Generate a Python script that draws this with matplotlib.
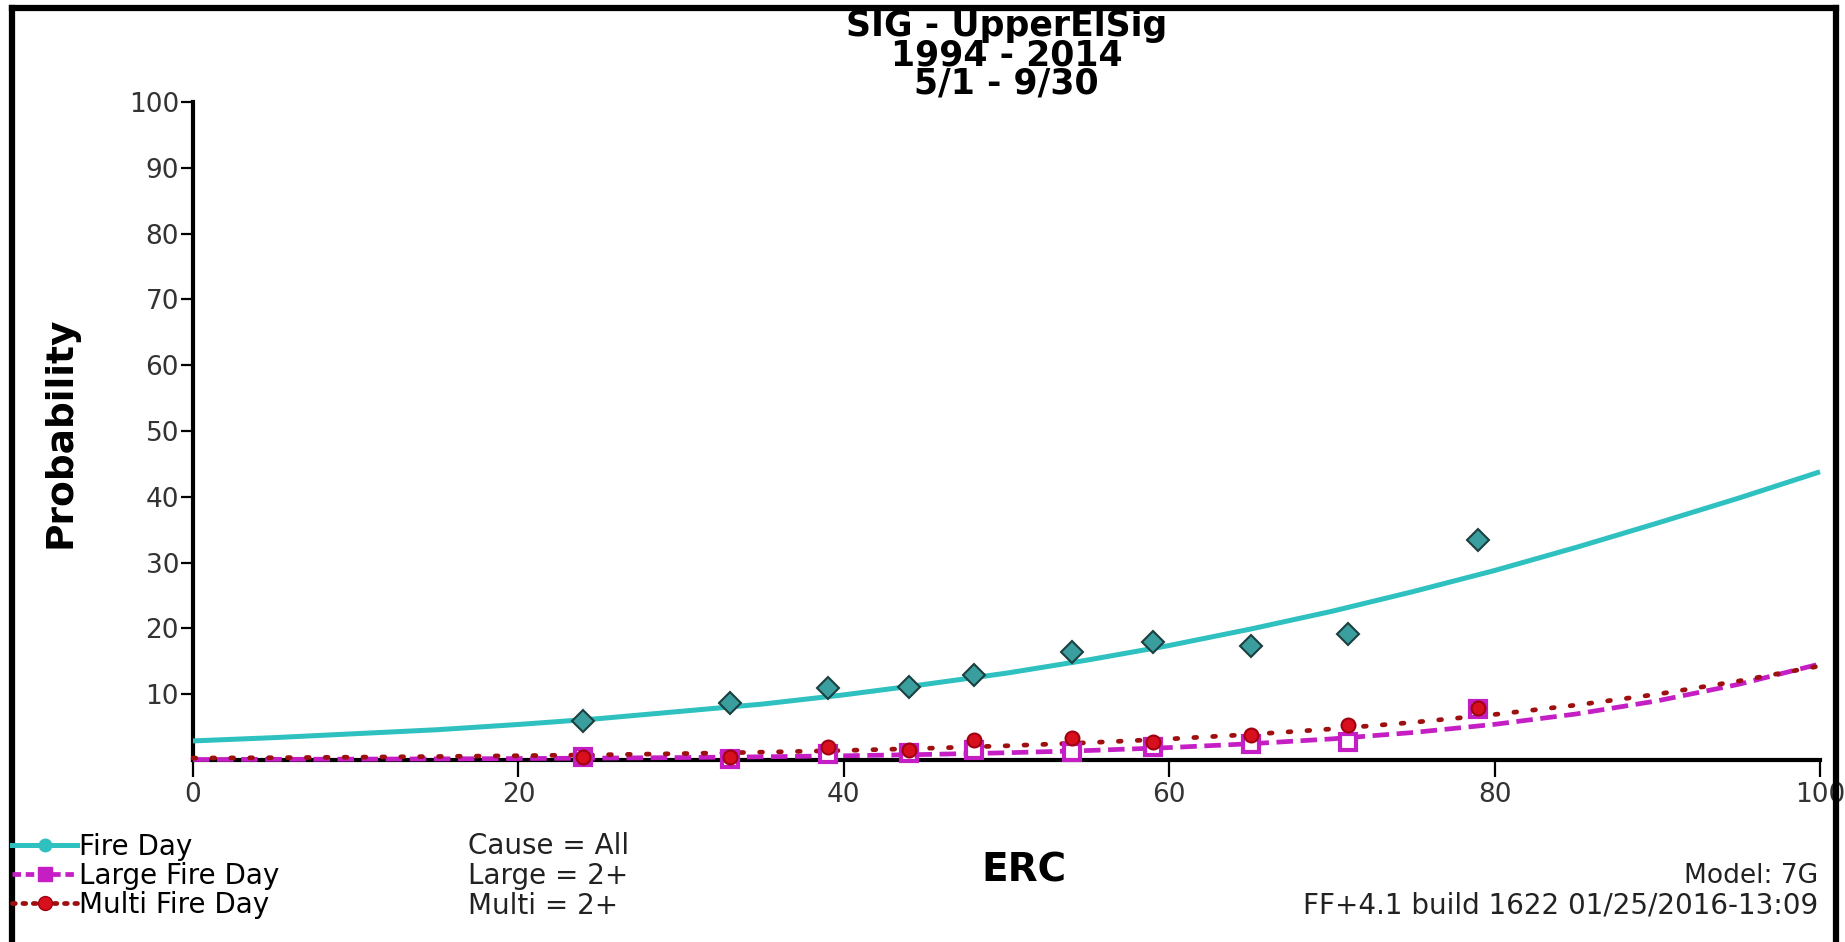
import matplotlib
matplotlib.use("Agg")
import matplotlib.pyplot as plt
from matplotlib.lines import Line2D

# Observed probabilities by ERC bin
erc_obs = [24, 33, 39, 44, 48, 54, 59, 65, 71, 79]
fire_obs = [5.9, 8.6, 11.0, 11.1, 12.9, 16.4, 17.9, 17.4, 19.1, 33.4]
large_obs = [0.5, 0.1, 0.9, 1.1, 1.5, 1.2, 2.0, 2.4, 2.7, 7.8]
multi_obs = [0.5, 0.4, 2.0, 1.5, 3.0, 3.3, 2.8, 3.8, 5.3, 7.9]

# Fitted logistic curves, sampled every 5 ERC
erc_fit = [0, 5, 10, 15, 20, 25, 30, 35, 40, 45, 50,
           55, 60, 65, 70, 75, 80, 85, 90, 95, 100]
fire_fit = [2.9, 3.4, 4.0, 4.6, 5.4, 6.3, 7.4, 8.5, 9.9, 11.5, 13.2,
            15.2, 17.4, 19.9, 22.6, 25.6, 28.8, 32.3, 36.0, 39.8, 43.8]
large_fit = [0.07, 0.10, 0.13, 0.17, 0.22, 0.29, 0.37, 0.49, 0.64, 0.84, 1.10,
             1.44, 1.89, 2.47, 3.21, 4.18, 5.42, 6.99, 8.99, 11.5, 14.6]
multi_fit = [0.29, 0.35, 0.43, 0.53, 0.65, 0.79, 0.97, 1.19, 1.45, 1.77, 2.16,
             2.63, 3.20, 3.89, 4.72, 5.72, 6.92, 8.34, 10.0, 12.0, 14.3]

x_ticks = [0, 20, 40, 60, 80, 100]
y_ticks = [10, 20, 30, 40, 50, 60, 70, 80, 90, 100]

title_lines = ["SIG - UpperElSig", "1994 - 2014", "5/1 - 9/30"]
legend_labels = ["Fire Day", "Large Fire Day", "Multi Fire Day"]
legend_notes = ["Cause = All", "Large = 2+", "Multi = 2+"]

FIRE = "#2FC0C0"
LARGE = "#C41EC4"
MULTI = "#9E1010"

W, H = 1845, 942
fig = plt.figure(figsize=(W / 100, H / 100), dpi=100)
plt.rcParams["font.family"] = ["DejaVu Sans"]

ax_l, ax_r, ax_b, ax_t = 193, 1820, 760, 102
ax = fig.add_axes([ax_l / W, 1 - ax_b / H, (ax_r - ax_l) / W, (ax_b - ax_t) / H])
ax.set_xlim(0, 100)
ax.set_ylim(0, 100)

ax.plot(erc_fit, fire_fit, color=FIRE, lw=3.6, solid_capstyle="butt",
        solid_joinstyle="round", clip_on=False, zorder=3)
ax.plot(erc_fit, large_fit, color=LARGE, lw=3.4, dashes=(3.5, 1.6),
        clip_on=False, zorder=3)
ax.plot(erc_fit, multi_fit, color=MULTI, lw=3.4, dashes=(0.6, 3.4),
        dash_capstyle="round", clip_on=False, zorder=4)

ax.plot(erc_obs, fire_obs, ls="none", marker="D", ms=11, mfc="#3B9E9E",
        mec="#1C3F3F", mew=1.5, clip_on=False, zorder=5)
ax.plot(erc_obs, large_obs, ls="none", marker="s", ms=11, mfc="white",
        mec=LARGE, mew=3, clip_on=False, zorder=5)
ax.plot(erc_obs, multi_obs, ls="none", marker="o", ms=10, mfc="#D8101E",
        mec="#A00010", mew=1.5, clip_on=False, zorder=6)

for side in ("top", "right"):
    ax.spines[side].set_visible(False)
for side in ("left", "bottom"):
    ax.spines[side].set_linewidth(3)
    ax.spines[side].set_color("black")

ax.set_xticks(x_ticks)
ax.set_yticks(y_ticks)
ax.tick_params(axis="y", direction="out", length=9, width=1.6, pad=1,
               labelsize=19, labelcolor="#333333")
ax.tick_params(axis="x", direction="out", length=12, width=1.6, pad=4,
               labelsize=19, labelcolor="#333333")

# Title block and axis labels
fig.text((ax_l + ax_r) / 2 / W, 1 - 55 / H, "\n".join(title_lines),
         ha="center", va="center", multialignment="center",
         fontsize=25, fontweight="bold", color="black", linespacing=0.81)

fig.text(60 / W, 1 - 432 / H, "Probability", rotation=90, ha="center", va="center",
         fontsize=27, fontweight="bold")
fig.text(1024 / W, 1 - 871 / H, "ERC", ha="center", va="center",
         fontsize=28, fontweight="bold")

# Legend in the lower-left corner
leg_handles = [
    Line2D([], [], color=FIRE, lw=3.6, marker="o", ms=9, mfc=FIRE, mec=FIRE),
    Line2D([], [], color=LARGE, lw=3.4, dashes=(1.8, 1.0), marker="s", ms=10,
           mfc=LARGE, mec=LARGE),
    Line2D([], [], color=MULTI, lw=3.4, dashes=(0.6, 1.6), dash_capstyle="round",
           marker="o", ms=10, mfc="#D8101E", mec="#A00010"),
]
fig.legend(leg_handles, legend_labels, loc="upper left",
           bbox_to_anchor=(12 / W, 1 - 833 / H), frameon=False, fontsize=20,
           handlelength=2.34, handletextpad=0.08, labelspacing=0.03,
           borderpad=0, borderaxespad=0, numpoints=1)

row_y = [846, 876, 906]
for note, yy in zip(legend_notes, row_y):
    fig.text(468 / W, 1 - yy / H, note, ha="left", va="center", fontsize=20,
             color="#222222")

fig.text(1818 / W, 1 - 876 / H, "Model: 7G", ha="right", va="center",
         fontsize=19, color="#222222")
fig.text(1818 / W, 1 - 906 / H, "FF+4.1 build 1622 01/25/2016-13:09", ha="right",
         va="center", fontsize=20, color="#222222")

# Frame around the figure
for xs, ys in [((12, 12), (0, H - 8)), ((12, 1836), (H - 8, H - 8)),
               ((1836, 1836), (0, H - 8))]:
    fig.add_artist(Line2D([x / W for x in xs], [y / H for y in ys],
                          transform=fig.transFigure, color="black", lw=4.5))

fig.savefig("out.png", dpi=100, facecolor="white")
